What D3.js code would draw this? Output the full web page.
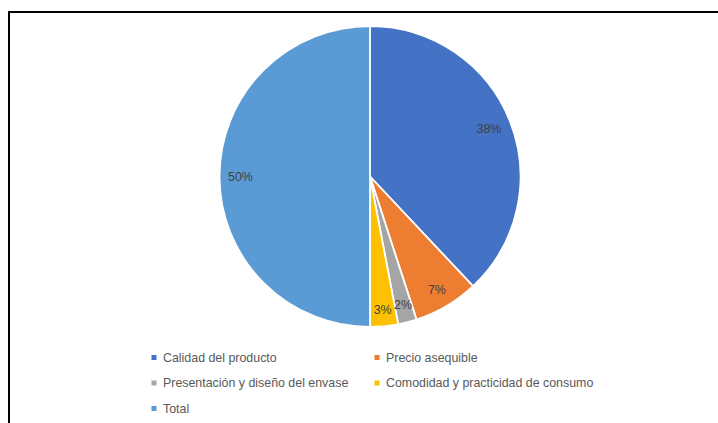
<!DOCTYPE html>
<html>
<head>
<meta charset="utf-8">
<script src="https://cdn.jsdelivr.net/npm/d3@7"></script>
<style>
  html, body { margin: 0; padding: 0; background: #fff; }
  svg { display: block; }
</style>
</head>
<body>
<svg id="chart" width="718" height="423"></svg>
<script>
// Survey factors and their share of responses (percent)
const categories = [
  "Calidad del producto",
  "Precio asequible",
  "Presentación y diseño del envase",
  "Comodidad y practicidad de consumo",
  "Total"
];
const values = [38, 7, 2, 3, 50];
const colors = ["#4472C4", "#ED7D31", "#A5A5A5", "#FFC000", "#5B9BD5"];

const W = 718, H = 423;
const cx = 370, cy = 176.5, R = 150.5;
const font = "'Liberation Sans', Arial, sans-serif";

const svg = d3.select("#chart");

// Frame of the chart area (left and top edges are visible)
svg.append("path")
  .attr("d", `M9,${H} L9,12 L${W},12`)
  .attr("fill", "none")
  .attr("stroke", "#000")
  .attr("stroke-width", 2);

const data = categories.map((c, i) => ({ name: c, value: values[i], color: colors[i] }));

const pie = d3.pie().value(d => d.value).sort(null);
const arcs = pie(data);
const arc = d3.arc().innerRadius(0).outerRadius(R);

const g = svg.append("g").attr("transform", `translate(${cx},${cy})`);

g.selectAll("path.slice")
  .data(arcs)
  .join("path")
  .attr("class", "slice")
  .attr("d", arc)
  .attr("fill", d => d.data.color)
  .attr("stroke", "#fff")
  .attr("stroke-width", 1.8)
  .attr("stroke-linejoin", "round");

// Percentage labels placed inside the slice, near its outer edge
const fmt = d3.format(".0%");
const total = d3.sum(values);
const pad = 8.5;
g.selectAll("text.lbl")
  .data(arcs)
  .join("text")
  .attr("class", "lbl")
  .attr("font-family", font)
  .attr("font-size", 12.4)
  .attr("fill", "#404040")
  .attr("text-anchor", "middle")
  .attr("dominant-baseline", "central")
  .text(d => fmt(d.data.value / total))
  .each(function(d) {
    const bb = this.getBBox();
    const a = (d.startAngle + d.endAngle) / 2;
    const sx = Math.sin(a), cy2 = -Math.cos(a);
    const ext = bb.width / 2 * Math.abs(sx) + bb.height / 2 * Math.abs(cy2);
    const dist = R - pad - ext;
    d3.select(this).attr("x", dist * sx).attr("y", dist * cy2);
  });

// Legend
const legendItems = [
  { i: 0, x: 154, y: 357.5 },
  { i: 1, x: 377, y: 357.5 },
  { i: 2, x: 154, y: 383 },
  { i: 3, x: 377, y: 383 },
  { i: 4, x: 154, y: 408.5 }
];
const lg = svg.append("g");
legendItems.forEach(it => {
  lg.append("rect")
    .attr("x", it.x - 2.5).attr("y", it.y - 2.5)
    .attr("width", 5).attr("height", 5)
    .attr("fill", colors[it.i]);
  lg.append("text")
    .attr("x", it.x + 9).attr("y", it.y)
    .attr("dominant-baseline", "central")
    .attr("font-family", font)
    .attr("font-size", 12.4)
    .attr("fill", "#595959")
    .text(categories[it.i]);
});
</script>
</body>
</html>
